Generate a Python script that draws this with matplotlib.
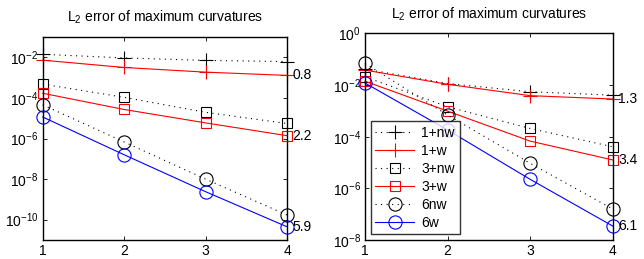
import numpy as np
import matplotlib
matplotlib.use("Agg")
import matplotlib.pyplot as plt

plt.rcParams['font.family'] = ['Liberation Sans', 'DejaVu Sans']
plt.rcParams['mathtext.fontset'] = 'custom'
plt.rcParams['mathtext.rm'] = 'Liberation Sans'
plt.rcParams['mathtext.it'] = 'Liberation Sans'
plt.rcParams['mathtext.bf'] = 'Liberation Sans'

levels = [1, 2, 3, 4]
series_names = ['1+nw', '1+w', '3+nw', '3+w', '6nw', '6w']

# log10 of errors, left panel
left_1nw = [-1.85, -2.03, -2.15, -2.21]
left_1w = [-2.14, -2.50, -2.73, -2.89]
left_3nw = [-3.32, -3.97, -4.71, -5.26]
left_3w = [-3.77, -4.57, -5.23, -5.86]
left_6nw = [-4.34, -6.17, -8.00, -9.77]
left_6w = [-4.94, -6.80, -8.62, -10.35]
left_rates = ['0.8', '2.2', '5.9']

# log10 of errors, right panel
right_1nw = [-1.38, -1.94, -2.26, -2.39]
right_1w = [-1.42, -1.97, -2.41, -2.54]
right_3nw = [-1.68, -2.84, -3.68, -4.39]
right_3w = [-1.85, -3.01, -4.17, -4.90]
right_6nw = [-1.16, -3.16, -5.03, -6.80]
right_6w = [-1.92, -3.74, -5.65, -7.46]
right_rates = ['1.3', '3.4', '6.1']

title = 'L$_2$ error of maximum curvatures'

dot = (0, (1, 4))
styles = [
    dict(color='black', ls=dot, marker='+', ms=10, mew=0.8),
    dict(color='red', ls='-', marker='+', ms=10, mew=0.8),
    dict(color='black', ls=dot, marker='s', ms=7.5, mew=0.8, mfc='none'),
    dict(color='red', ls='-', marker='s', ms=7.5, mew=0.8, mfc='none'),
    dict(color='black', ls=dot, marker='o', ms=9.5, mew=0.8, mfc='none'),
    dict(color='blue', ls='-', marker='o', ms=9.5, mew=0.8, mfc='none'),
]

fig = plt.figure(figsize=(6.44, 2.59), dpi=100)
axL = fig.add_axes([0.0663, 0.0734, 0.3794, 0.7836])
axR = fig.add_axes([0.5668, 0.0734, 0.3846, 0.7975])


def draw(ax, data, rates, ylim, yticks, legend=False):
    handles = []
    for name, vals, st in zip(series_names, data, styles):
        h, = ax.semilogy(levels, 10.0 ** np.array(vals), lw=0.8, label=name,
                         clip_on=False, **st)
        handles.append(h)
    for idx, r in zip([1, 3, 5], rates):
        ax.annotate(r, xy=(levels[-1], 10.0 ** data[idx][-1]), xytext=(4, 0),
                    textcoords='offset points', va='center', ha='left', fontsize=10)
    ax.set_xlim(levels[0], levels[-1])
    ax.set_ylim(*ylim)
    ax.set_xticks(levels)
    ax.set_yticks(yticks)
    ax.minorticks_off()
    ax.tick_params(direction='in', top=True, right=True, labelsize=10,
                   length=3, width=0.6, pad=3)
    for s in ax.spines.values():
        s.set_linewidth(1.0)
    ax.set_title(title, fontsize=10, pad=11)
    if legend:
        leg = ax.legend(handles=handles, loc='lower left', fontsize=10,
                        frameon=True, fancybox=False, edgecolor='black',
                        borderaxespad=0.4, handlelength=2.8, labelspacing=0.28,
                        borderpad=0.35, handletextpad=0.5)
        leg.get_frame().set_linewidth(1.0)


draw(axL, [left_1nw, left_1w, left_3nw, left_3w, left_6nw, left_6w], left_rates,
     (1e-11, 1e-1), [1e-10, 1e-8, 1e-6, 1e-4, 1e-2])
draw(axR, [right_1nw, right_1w, right_3nw, right_3w, right_6nw, right_6w], right_rates,
     (1e-8, 1e0), [1e-8, 1e-6, 1e-4, 1e-2, 1e0], legend=True)

fig.savefig('out.png', dpi=100)
